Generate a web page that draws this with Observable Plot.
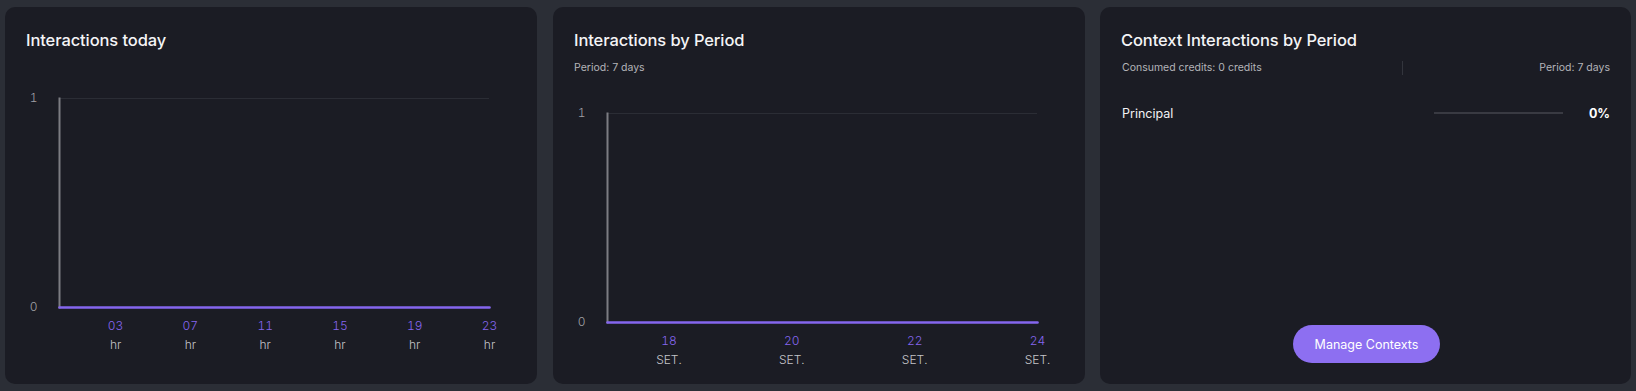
<!DOCTYPE html>
<html>
<head>
<meta charset="utf-8">
<script src="https://cdn.jsdelivr.net/npm/d3@7"></script>
<script src="https://cdn.jsdelivr.net/npm/@observablehq/plot@0.6"></script>
<style>
  html, body { margin: 0; padding: 0; }
  body { width: 1636px; height: 391px; background: #2b2e36; position: relative; overflow: hidden; font-family: Inter, "Noto Sans", sans-serif; }
  .card { position: absolute; top: 7px; height: 377px; background: #1b1c24; border-radius: 10px; }
  .title { position: absolute; left: 21px; top: 22px; color: #f4f4f6; font-size: 16.5px; font-weight: 500; letter-spacing: -0.1px; line-height: 22px; }
  .sub { position: absolute; top: 54px; color: #b4b4b9; font-size: 10.5px; line-height: 14px; font-weight: 400; }
  .chart { position: absolute; left: 0; }
  .row { position: absolute; left: 22px; right: 21px; top: 96px; height: 20px; display: flex; align-items: center; }
  .rowname { color: #f2f2f4; font-size: 12.5px; font-weight: 400; }
  .track { position: absolute; left: 312px; top: 9px; }
  .pct { position: absolute; right: 0; color: #ffffff; font-size: 12.5px; font-weight: 700; }
  .divider { position: absolute; left: 302px; top: 54px; width: 1px; height: 14px; background: #33353d; }
  .btn { position: absolute; left: 193px; top: 318px; width: 147px; height: 38px; border-radius: 19px; background: #8d6ff1; color: #fff; font-size: 12.5px; font-weight: 400; display: flex; align-items: center; justify-content: center; }
</style>
</head>
<body>
<div class="card" id="c1" style="left:5px;width:532px"><div class="title">Interactions today</div></div>
<div class="card" id="c2" style="left:553px;width:532px"><div class="title">Interactions by Period</div><div class="sub" style="left:21px" id="p2"></div></div>
<div class="card" id="c3" style="left:1100px;width:531px">
  <div class="title">Context Interactions by Period</div>
  <div class="sub" style="left:22px" id="credits"></div>
  <div class="divider"></div>
  <div class="sub" style="right:21px" id="p3"></div>
  <div id="rows"></div>
  <div class="btn">Manage Contexts</div>
</div>
<script>
// ---- data ----
const hours = [0,1,2,3,4,5,6,7,8,9,10,11,12,13,14,15,16,17,18,19,20,21,22,23];
const todayValues = [0,0,0,0,0,0,0,0,0,0,0,0,0,0,0,0,0,0,0,0,0,0,0,0];
const hourTicks = [3,7,11,15,19,23];
const hourUnit = "hr";

const days = ["2024-09-17","2024-09-18","2024-09-19","2024-09-20","2024-09-21","2024-09-22","2024-09-23","2024-09-24"];
const periodValues = [0,0,0,0,0,0,0,0];
const dayTicks = ["2024-09-18","2024-09-20","2024-09-22","2024-09-24"];
const monthLabel = "SET.";

const yTicks = [0,1];
const periodDays = 7;
const consumedCredits = 0;
const contextNames = ["Principal"];
const contextShares = [0];

// ---- styles ----
const PURPLE = "#8566ee";
const AXIS = "#7c7c82";
const GRID = "#2b2d35";
const YLAB = "#a0a0a6";
const UNIT = "#c4c4c9";

function lineChart(rows, xOpts, ticks, fmtTop, fmtBottom) {
  return Plot.plot({
    width: 532, height: 277,
    marginLeft: 54, marginRight: 48, marginTop: 18, marginBottom: 50,
    style: {background: "transparent", fontFamily: "Inter, sans-serif", fontSize: "12px", overflow: "visible"},
    x: xOpts,
    y: {domain: [0, 1], ticks: yTicks, label: null},
    marks: [
      Plot.ruleY(yTicks.filter(d => d > 0), {stroke: GRID, strokeWidth: 1.2}),
      Plot.frame({anchor: "left", stroke: AXIS, strokeWidth: 2}),
      Plot.axisY(yTicks, {tickSize: 0, tickPadding: 22, tickFormat: d3.format("d"), fill: YLAB, label: null, fontSize: 12, fontWeight: 300}),
      Plot.lineY(rows, {x: "x", y: "y", stroke: PURPLE, strokeWidth: 2.6}),
      Plot.axisX(ticks, {tickSize: 0, tickPadding: 14, tickFormat: fmtTop, fill: PURPLE, label: null, fontSize: 12, fontWeight: 300}),
      Plot.axisX(ticks, {tickSize: 0, tickPadding: 33, tickFormat: fmtBottom, fill: UNIT, label: null, fontSize: 12, fontWeight: 300})
    ]
  });
}

// chart 1
const todayRows = hours.map((h, i) => ({x: h, y: todayValues[i]}));
const ch1 = lineChart(todayRows, {domain: [hours[0], hours[hours.length-1]], label: null},
  hourTicks, d => String(d).padStart(2, "0"), () => hourUnit);
ch1.classList.add("chart"); ch1.style.top = "73px";
document.getElementById("c1").appendChild(ch1);

// chart 2
const parse = d3.utcParse("%Y-%m-%d");
const periodRows = days.map((d, i) => ({x: parse(d), y: periodValues[i]}));
const ch2 = lineChart(periodRows, {type: "utc", domain: [parse(days[0]), parse(days[days.length-1])], label: null},
  dayTicks.map(parse), d3.utcFormat("%d"), () => monthLabel);
ch2.classList.add("chart"); ch2.style.top = "88px";
document.getElementById("c2").appendChild(ch2);
document.getElementById("p2").textContent = `Period: ${periodDays} days`;

// chart 3
document.getElementById("credits").textContent = `Consumed credits: ${consumedCredits} credits`;
document.getElementById("p3").textContent = `Period: ${periodDays} days`;
const rowsEl = document.getElementById("rows");
contextNames.forEach((name, i) => {
  const row = document.createElement("div");
  row.className = "row";
  const label = document.createElement("div"); label.className = "rowname"; label.textContent = name;
  const pct = document.createElement("div"); pct.className = "pct"; pct.textContent = `${contextShares[i]}%`;
  const bar = Plot.plot({
    width: 129, height: 2, margin: 0,
    style: {background: "transparent"},
    x: {domain: [0, 100], axis: null},
    y: {domain: [name], axis: null, padding: 0},
    marks: [
      Plot.barX([name], {y: d => d, x1: 0, x2: 100, fill: "#393a42"}),
      Plot.barX([contextShares[i]], {y: () => name, x1: 0, x2: d => d, fill: PURPLE})
    ]
  });
  bar.classList.add("track");
  row.appendChild(label); row.appendChild(bar); row.appendChild(pct);
  rowsEl.appendChild(row);
});
</script>
</body>
</html>
